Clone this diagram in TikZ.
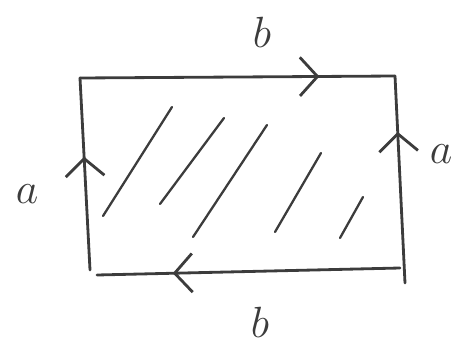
\documentclass[tikz,border=0pt]{standalone}
\usepackage{tikz}
\usetikzlibrary{arrows.meta}
\usetikzlibrary{decorations.markings}
\definecolor{pencil}{HTML}{3C3C3C}

\begin{document}
\begin{tikzpicture}[x=0.02cm, y=-0.02cm,
		>={Straight Barb[length=10pt,width=22pt,line width=1.6pt]},
		edge/.style={draw=pencil, line width=1.6pt, line cap=round},
		midarrow/.style={postaction={decorate}, decoration={markings, mark=at position #1 with {\arrow{>}}}},
		hatch/.style={draw=pencil, line width=1.3pt, line cap=round},
		lbl/.style={text=pencil, font=\fontsize{38}{38}\selectfont}]
		\useasboundingbox (0,0) rectangle (464,349);
		\coordinate (TL) at (80,78);
		\coordinate (TR) at (395,76);
		\coordinate (BR) at (405,283);
		\coordinate (BL) at (90,270);
		\coordinate (BS) at (97,275);
		\coordinate (BE) at (400,268);
		\draw[edge, midarrow=0.76] (TL) -- (TR);
		\draw[edge, midarrow=0.59] (BL) -- (TL);
		\draw[edge, midarrow=0.75] (BE) -- (BS);
		\draw[edge, midarrow=0.73] (BR) -- (TR);
		\node[lbl] (top)    at (262,32)  {$b$};
		\node[lbl] (bottom) at (260,322) {$b$};
		\node[lbl] (left)   at (27,194)  {$a$};
		\node[lbl] (right)  at (441,154) {$a$};
		% hatching
		\draw[hatch] (172,107) -- (103,216);
		\draw[hatch] (224,118) -- (160,204);
		\draw[hatch] (267,125) -- (193,237);
		\draw[hatch] (321,153) -- (275,232);
		\draw[hatch] (363,197) -- (340,238);
	\end{tikzpicture}
\end{document}
